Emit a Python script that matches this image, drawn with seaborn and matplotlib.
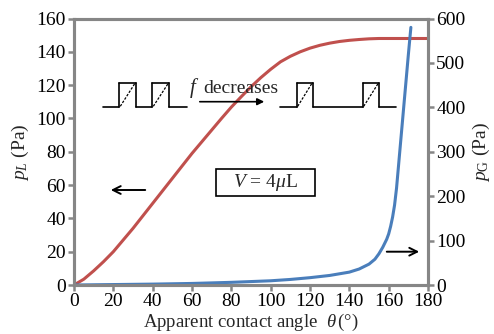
import numpy as np
import pandas as pd
import matplotlib
matplotlib.use("Agg")
import matplotlib.pyplot as plt
from matplotlib.patches import Rectangle, FancyArrowPatch
import seaborn as sns

# ---- data ----
theta_L = [0, 5, 10, 15, 20, 25, 30, 35, 40, 45, 50, 55, 60, 65, 70, 75, 80, 85, 90,
           95, 100, 105, 110, 115, 120, 125, 130, 135, 140, 145, 150, 155, 160, 165,
           170, 175, 180]
p_L = [0, 3.5, 8.5, 14, 20, 27, 34, 41.5, 49, 56.5, 64, 71.5, 79, 86, 93, 100, 106.8,
       113, 119, 124.5, 129.5, 134, 137.3, 140, 142.2, 143.9, 145.2, 146.2, 146.9,
       147.4, 147.8, 148, 148, 148, 148, 148, 148]

theta_G = [0, 20, 40, 60, 80, 100, 110, 120, 130, 140, 145, 150, 153, 155, 157, 159,
           160, 161, 162, 163, 164, 165, 166, 167, 168, 169, 170, 171, 171.3]
p_G = [0, 1, 2, 3.5, 6, 9.5, 12.5, 16.5, 21.5, 29, 36, 47, 58, 70, 85, 103, 115, 132,
       153, 180, 218, 268, 318, 368, 418, 468, 518, 566, 580]

x_ticks = [0, 20, 40, 60, 80, 100, 120, 140, 160, 180]
yL_ticks = [0, 20, 40, 60, 80, 100, 120, 140, 160]
yG_ticks = [0, 100, 200, 300, 400, 500, 600]

red = "#c0504d"
blue = "#4a7ebb"
gray = "#868686"

sns.set_style("white")
plt.rcParams["font.family"] = ["Liberation Serif", "DejaVu Serif"]
plt.rcParams["mathtext.fontset"] = "custom"
plt.rcParams["mathtext.rm"] = "Liberation Serif"
plt.rcParams["mathtext.it"] = "Liberation Serif:italic"

fig = plt.figure(figsize=(4.94, 3.34), dpi=100)
ax = fig.add_axes([0.1498, 0.1467, 0.7166, 0.7979])
ax2 = ax.twinx()

dfL = pd.DataFrame({"theta": theta_L, "p": p_L})
dfG = pd.DataFrame({"theta": theta_G, "p": p_G})
sns.lineplot(data=dfL, x="theta", y="p", ax=ax, color=red, lw=2.2, sort=False)
sns.lineplot(data=dfG, x="theta", y="p", ax=ax2, color=blue, lw=2.2, sort=False)

ax.set_xlim(0, 180)
ax.set_ylim(0, 160)
ax2.set_ylim(0, 600)
ax.set_xticks(x_ticks)
ax.set_yticks(yL_ticks)
ax2.set_yticks(yG_ticks)

fs = 14
for a in (ax, ax2):
    for s in a.spines.values():
        s.set_color(gray)
        s.set_linewidth(2.2)
    a.tick_params(colors=gray, labelcolor="black", width=1.8, length=4.5,
                  labelsize=fs, pad=1.5)
ax.tick_params(axis="both", direction="out", left=True, bottom=True)
ax2.tick_params(axis="y", direction="out", right=True)

ax.set_xlabel(r"Apparent contact angle  $\theta\,$(°)", fontsize=13.5, labelpad=1)
ax.set_ylabel(r"$p_L$ (Pa)", fontsize=fs, labelpad=4)
ax2.set_ylabel(r"$p_{\rm G}$ (Pa)", fontsize=fs, labelpad=4)

# ---- annotations (in pixel coordinates of the figure) ----
H = 334.0
def fx(px):
    return px / 494.0
def fy(py):
    return 1 - py / H

def pulse_train(segments):
    base = 107.3
    top = 82.7
    for x0, x1, high in segments:
        y = top if high else base
        fig.add_artist(plt.Line2D([fx(x0), fx(x1)], [fy(y), fy(y)], color="black", lw=1.2))
        if high:
            fig.add_artist(plt.Line2D([fx(x0), fx(x0)], [fy(base), fy(top)], color="black", lw=1.2))
            fig.add_artist(plt.Line2D([fx(x1), fx(x1)], [fy(base), fy(top)], color="black", lw=1.2))
            fig.add_artist(plt.Line2D([fx(x0 + 1), fx(x1 - 1)], [fy(base - 1), fy(top + 1)],
                                      color="black", lw=0.9, ls=(0, (2, 1.2))))

pulse_train([(102.7, 119.3, False), (119.3, 135.7, True), (135.7, 152.3, False),
             (152.3, 169, True), (169, 186.7, False)])
pulse_train([(280, 296.7, False), (296.7, 312.7, True), (312.7, 362.7, False),
             (362.7, 379, True), (379, 396, False)])

fig.text(fx(194), fy(88), r"$f$", fontsize=fs + 1, ha="center", va="center")
fig.text(fx(240.5), fy(88), "decreases", fontsize=fs, ha="center", va="center")
fig.add_artist(FancyArrowPatch(
    (fx(197), fy(101.7)), (fx(267), fy(101.7)), transform=fig.transFigure,
    arrowstyle="-|>", mutation_scale=10, color="black", lw=1.2))

fig.add_artist(Rectangle((fx(216), fy(195.7)), fx(315) - fx(216), fy(169) - fy(195.7),
                         transform=fig.transFigure, fill=False, ec="black", lw=1.2))
fig.text(fx(265.5), fy(182.5), r"$V$ = 4$\mu$L", fontsize=fs, ha="center", va="center")

fig.add_artist(FancyArrowPatch(
    (fx(148), fy(190)), (fx(108), fy(190)), transform=fig.transFigure,
    arrowstyle="->", mutation_scale=14, color="black", lw=1.4))
fig.add_artist(FancyArrowPatch(
    (fx(384), fy(251.7)), (fx(422), fy(251.7)), transform=fig.transFigure,
    arrowstyle="->", mutation_scale=14, color="black", lw=1.4))

fig.savefig("out.png", dpi=100)
